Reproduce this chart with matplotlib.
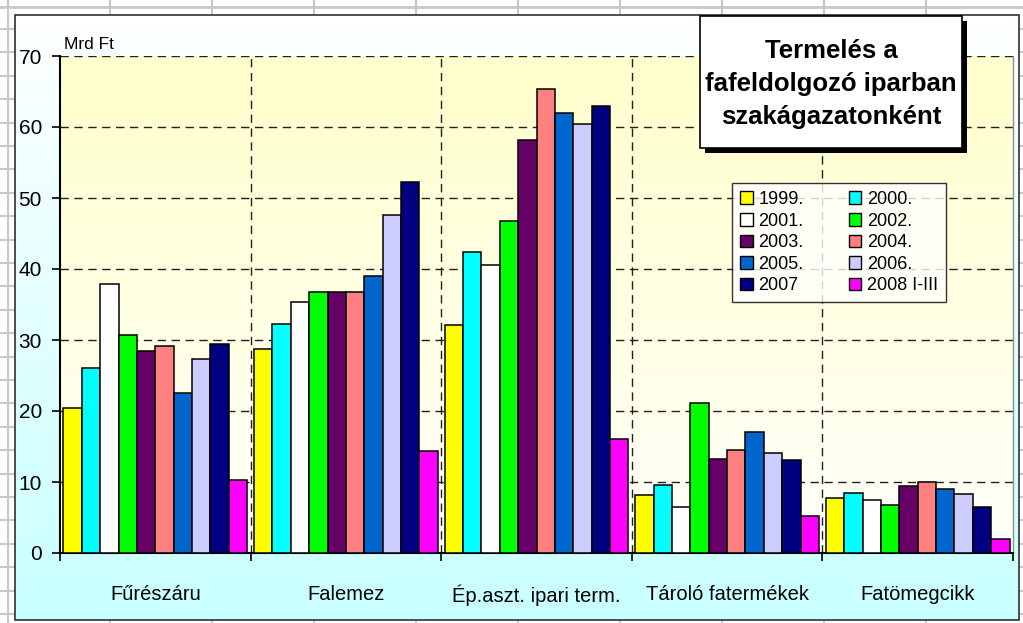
import numpy as np
import matplotlib
matplotlib.use('Agg')
from matplotlib import pyplot as plt
from matplotlib.patches import Rectangle, Patch
from matplotlib.colors import LinearSegmentedColormap

categories = ['Fűrészáru', 'Falemez', 'Ép.aszt. ipari term.', 'Tároló fatermékek', 'Fatömegcikk']
years = ['1999.', '2000.', '2001.', '2002.', '2003.', '2004.', '2005.', '2006.', '2007', '2008 I-III']

v1999 = [20.4, 28.7, 32.1, 8.1, 7.8]
v2000 = [26.0, 32.3, 42.4, 9.6, 8.5]
v2001 = [37.9, 35.3, 40.6, 6.5, 7.4]
v2002 = [30.7, 36.8, 46.7, 21.1, 6.7]
v2003 = [28.5, 36.7, 58.2, 13.2, 9.4]
v2004 = [29.1, 36.7, 65.3, 14.5, 10.0]
v2005 = [22.6, 39.0, 62.0, 17.0, 9.0]
v2006 = [27.3, 47.6, 60.4, 14.1, 8.3]
v2007 = [29.4, 52.3, 62.9, 13.1, 6.5]
v2008 = [10.3, 14.3, 16.1, 5.2, 2.0]
series = [v1999, v2000, v2001, v2002, v2003, v2004, v2005, v2006, v2007, v2008]

colors = ['#FFFF00', '#00FFFF', '#FFFFFF', '#00FF00', '#660066',
          '#FF8080', '#0066CC', '#CCCCFF', '#000080', '#FF00FF']

plt.rcParams['font.family'] = ['Liberation Sans', 'DejaVu Sans']

W, H = 1023, 623
fig = plt.figure(figsize=(W / 100, H / 100), dpi=100)

# background: spreadsheet cells + chart area
bg = fig.add_axes([0, 0, 1, 1])
bg.set_xlim(0, W)
bg.set_ylim(H, 0)
bg.axis('off')
for x in [8] + list(range(110, 1030, 102)):
    bg.plot([x, x], [0, H], color='#C8C8C8', lw=1.5, zorder=0)
bg.plot([0, W], [7, 7], color='#C8C8C8', lw=2, zorder=0)
for y in np.arange(29, H, 23.4):
    bg.plot([0, W], [y, y], color='#C8C8C8', lw=1.5, zorder=0)

grad = LinearSegmentedColormap.from_list('ca', ['#FFFFFF', '#C8FFFF'])
bg.imshow(np.linspace(0, 1, 256).reshape(-1, 1), cmap=grad, aspect='auto',
          extent=(15, 1019, 620, 15), zorder=1)
bg.add_patch(Rectangle((15, 15), 1004, 605, fill=False, ec='#303030', lw=1.2, zorder=2))

# plot area
ax = fig.add_axes([60 / W, 1 - 553 / H, (1013 - 60) / W, (553 - 56) / H])
ax.set_xlim(-0.5, 4.5)
ax.set_ylim(0, 70)
pa = LinearSegmentedColormap.from_list('pa', ['#FFFFFA', '#FFFFCC'])
ax.imshow(np.linspace(1, 0, 256).reshape(-1, 1), cmap=pa, aspect='auto',
          extent=(-0.5, 4.5, 0, 70), zorder=0)

x = np.arange(len(categories))
w = 0.0965
for i, (vals, c) in enumerate(zip(series, colors)):
    ax.bar(x + (i - 4.5) * w, vals, w, color=c, edgecolor='black', lw=1.1, zorder=3)

for yv in range(10, 71, 10):
    ax.axhline(yv, color='#202020', lw=1, ls=(0, (6, 4)), zorder=1)
for xv in [0.5, 1.5, 2.5, 3.5]:
    ax.axvline(xv, color='#202020', lw=1, ls=(0, (6, 4)), zorder=1)

ax.spines['top'].set_visible(False)
ax.spines['right'].set_color('#909090')
ax.spines['right'].set_linewidth(1)
ax.spines['left'].set_linewidth(1.5)
ax.spines['bottom'].set_linewidth(1.5)

ax.set_yticks(range(0, 71, 10))
ax.tick_params(axis='y', length=6, width=1.2, pad=7, labelsize=15)
ax.set_xticks(x)
ax.set_xticklabels(categories)
ax.set_xticks(np.arange(-0.5, 5, 1), minor=True)
ax.tick_params(axis='x', which='major', length=0, pad=23, labelsize=14.5)
ax.tick_params(axis='x', which='minor', length=6, width=1.2)

fig.text(64 / W, 1 - 49 / H, 'Mrd Ft', fontsize=12.5, ha='left', va='baseline')

# legend, filled row by row
order = [0, 2, 4, 6, 8, 1, 3, 5, 7, 9]
handles = [Patch(fc=colors[k], ec='black', lw=1) for k in order]
labels = [years[k] for k in order]
leg = ax.legend(handles, labels, ncol=2, loc='upper left',
                bbox_to_anchor=(732 / W, 1 - 183 / H), bbox_transform=fig.transFigure,
                fontsize=13, frameon=True, fancybox=False, borderaxespad=0,
                handlelength=0.7, handleheight=0.7, handletextpad=0.3,
                labelspacing=0.25, columnspacing=2.5, borderpad=0.45)
leg.get_frame().set_edgecolor('black')
leg.get_frame().set_linewidth(1)
leg.set_zorder(5)

# title box with shadow
bg2 = fig.add_axes([0, 0, 1, 1], zorder=10)
bg2.set_xlim(0, W)
bg2.set_ylim(H, 0)
bg2.axis('off')
bg2.add_patch(Rectangle((705, 21), 262, 132, fc='black', ec='none'))
bg2.add_patch(Rectangle((700, 16), 262, 132, fc='white', ec='black', lw=1.2))
bg2.text(831, 84, 'Termelés a\nfafeldolgozó iparban\nszakágazatonként',
         ha='center', va='center', fontsize=18.5, fontweight='bold', linespacing=1.45)

fig.savefig('out.png', dpi=100)
